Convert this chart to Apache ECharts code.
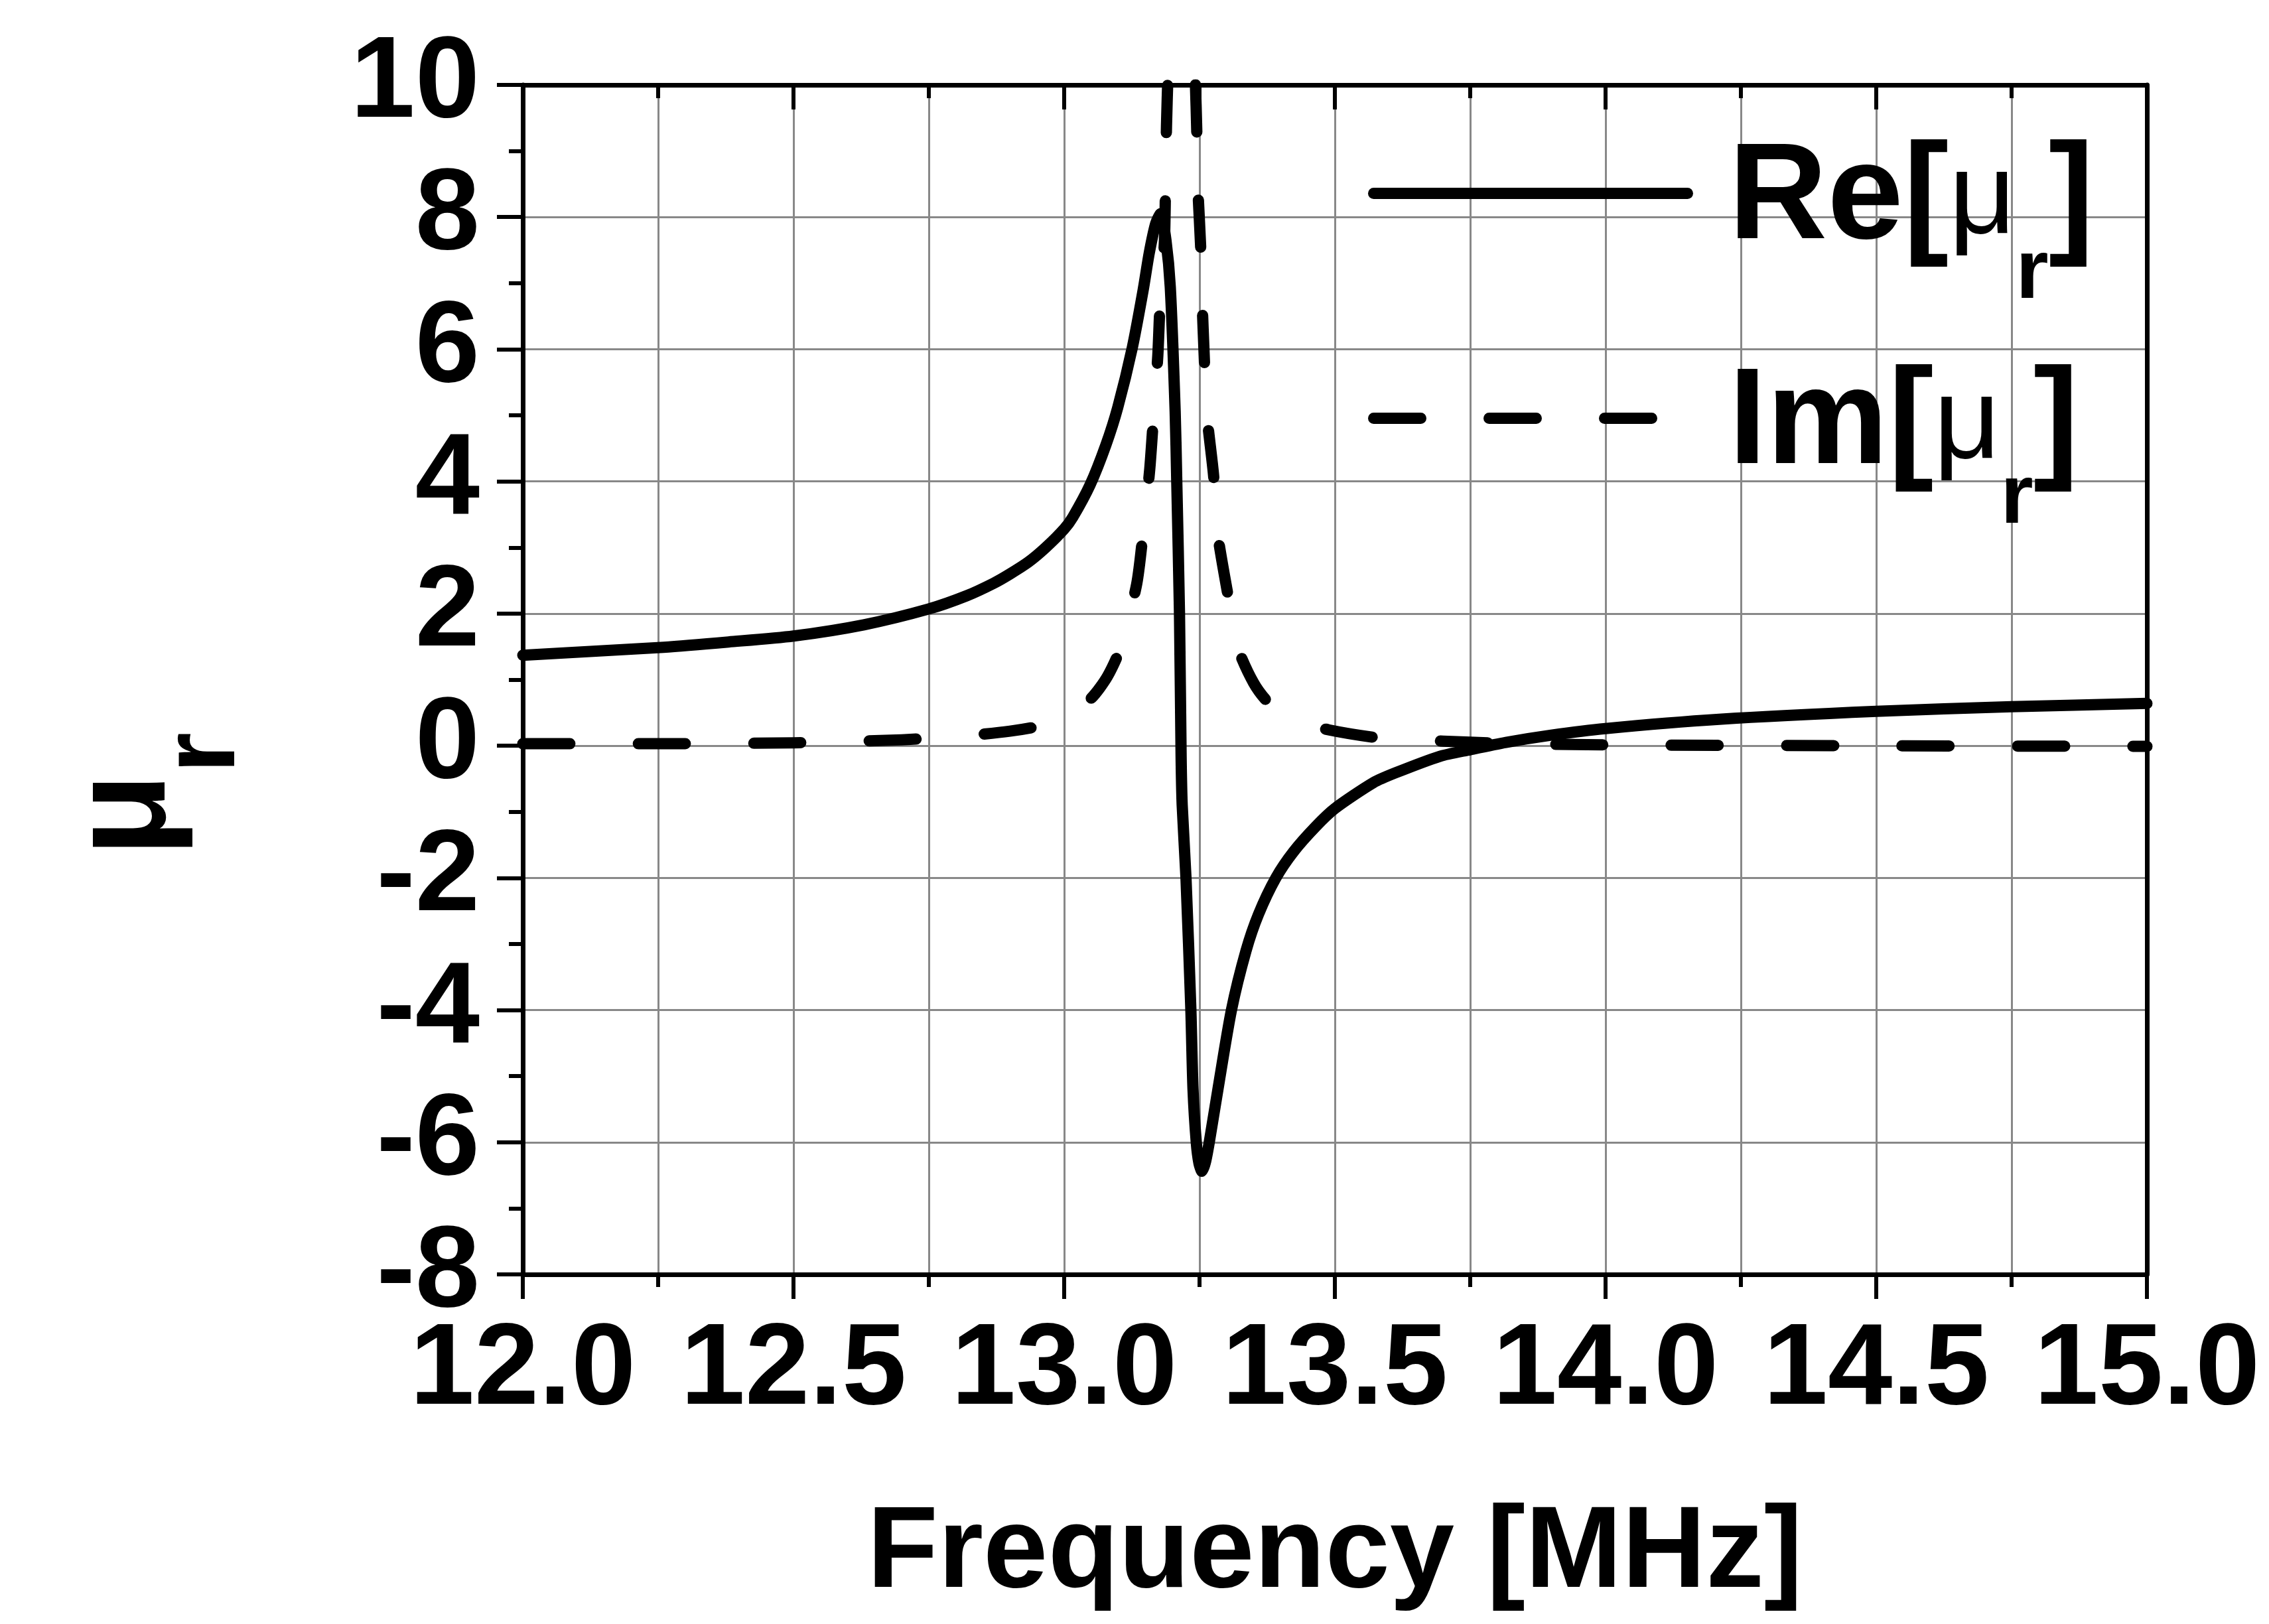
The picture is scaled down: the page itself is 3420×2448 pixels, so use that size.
<!DOCTYPE html>
<html>
<head>
<meta charset="utf-8">
<script src="https://cdn.jsdelivr.net/npm/echarts@6/dist/echarts.min.js"></script>
<style>
html,body{margin:0;padding:0;background:#ffffff;}
#chart{width:3420px;height:2448px;}
</style>
</head>
<body>
<div id="chart"></div>
<script>
// ---- data ----
const reFreq = [12.00, 12.13, 12.26, 12.38, 12.50, 12.63, 12.75, 12.82, 12.87, 12.90, 12.934, 12.966,
  13.000, 13.016, 13.048, 13.077, 13.099, 13.126, 13.146, 13.157, 13.169, 13.178, 13.188, 13.196, 13.205,
  13.208, 13.213, 13.216, 13.218, 13.225, 13.234, 13.238, 13.244, 13.249, 13.2545, 13.261, 13.268,
  13.284, 13.309, 13.336, 13.359, 13.391, 13.424, 13.465, 13.500, 13.571, 13.612, 13.694, 13.750,
  13.816, 13.900, 14.000, 14.210, 14.500, 14.750, 15.000];
const reMu = [1.37, 1.43, 1.49, 1.57, 1.66, 1.83, 2.07, 2.27, 2.46, 2.60, 2.78, 3.00,
  3.28, 3.46, 3.95, 4.55, 5.12, 6.03, 6.90, 7.45, 7.90, 8.05, 7.65, 6.94, 5.06,
  3.99, 2.00, -0.16, -0.90, -2.00, -3.99, -5.20, -6.00, -6.32, -6.44, -6.30, -6.00,
  -5.20, -4.00, -3.10, -2.55, -2.00, -1.60, -1.22, -0.95, -0.56, -0.41, -0.16, -0.06,
  0.05, 0.16, 0.26, 0.40, 0.52, 0.59, 0.64];

const imFreq = [12.00, 12.25, 12.50, 12.70, 12.83, 12.90, 12.95, 13.00, 13.05, 13.08, 13.105,
  13.134, 13.146, 13.158, 13.165, 13.173, 13.177, 13.185, 13.187, 13.189, 13.192, 13.203, 13.216,
  13.229, 13.242, 13.245, 13.247, 13.252, 13.255, 13.259, 13.263, 13.276, 13.283, 13.301, 13.320,
  13.350, 13.379, 13.430, 13.489, 13.590, 13.700, 13.800, 13.910, 14.100, 14.500, 15.000];
const imMu = [0.03, 0.03, 0.045, 0.09, 0.16, 0.22, 0.29, 0.42, 0.72, 1.05, 1.50,
  2.45, 3.24, 4.18, 4.98, 5.91, 6.67, 7.60, 8.37, 9.38, 10.2, 12.2, 14.0,
  12.3, 10.1, 9.28, 8.44, 7.57, 6.68, 5.83, 5.06, 4.09, 3.24, 2.35, 1.50,
  0.95, 0.64, 0.38, 0.24, 0.11, 0.07, 0.04, 0.02, 0.01, 0.00, -0.01];

const seriesNames = ['Re[\u03bcr]', 'Im[\u03bcr]'];
const xAxisRange = [12, 15];
const xTickStep = 0.5;
const yAxisRange = [-8, 10];
const yTickStep = 2;
const xTitle = 'Frequency [MHz]';

// ---- chart ----
const FONT = "'Liberation Sans', Arial, Helvetica, sans-serif";
const BLACK = '#000000';
const GRID = '#888888';
const LW = 17;
const DASH = [71, 103];
const TP = 22; // legend text vertical shift (padding)

function pairs(xs, ys) { return xs.map((x, i) => [x, ys[i]]); }

const chart = echarts.init(document.getElementById('chart'), null, {renderer: 'canvas'});

const option = {
  animation: false,
  backgroundColor: '#ffffff',
  grid: {left: 788, top: 128, right: 184, bottom: 527, containLabel: false, outerBoundsMode: 'none'},
  legend: {
    orient: 'vertical',
    left: 2062,
    top: 106,
    padding: 0,
    itemGap: -32,
    itemWidth: 473,
    itemHeight: 30,
    selectedMode: false,
    itemStyle: {opacity: 0},
    data: [
      {name: seriesNames[0], lineStyle: {color: BLACK, width: LW, type: 'solid', cap: 'round', opacity: 1}},
      {name: seriesNames[1], lineStyle: {color: BLACK, width: LW, type: DASH, cap: 'round', opacity: 1}}
    ],
    formatter: function (name) {
      const head = name.slice(0, 3);
      return '{b0|' + head + '}{mu|\u03bc}{sub|r}{b|]}';
    },
    textStyle: {
      color: BLACK,
      rich: {
        b0: {fontFamily: FONT, fontWeight: 'bold', fontSize: 206, lineHeight: 300, color: BLACK, padding: [TP, 0, 0, 57]},
        b: {fontFamily: FONT, fontWeight: 'bold', fontSize: 206, lineHeight: 300, color: BLACK, padding: [TP, 0, 0, 0]},
        mu: {fontFamily: FONT, fontWeight: 'normal', fontSize: 175, lineHeight: 300, color: BLACK, padding: [TP, 0, 0, 0]},
        sub: {fontFamily: FONT, fontWeight: 'bold', fontSize: 127, lineHeight: 300, color: BLACK, padding: [222 + TP, 0, 0, 0]}
      }
    }
  },
  xAxis: [{
    type: 'value',
    position: 'bottom',
    min: xAxisRange[0], max: xAxisRange[1], interval: xTickStep,
    name: xTitle,
    nameLocation: 'middle',
    nameGap: 335,
    nameTextStyle: {fontFamily: FONT, fontWeight: 'bold', fontSize: 175, color: BLACK},
    axisLine: {show: true, onZero: false, lineStyle: {color: BLACK, width: 7}},
    axisTick: {show: true, inside: false, length: 37, lineStyle: {color: BLACK, width: 6}},
    minorTick: {show: true, splitNumber: 2, length: 19, lineStyle: {color: BLACK, width: 6}},
    axisLabel: {
      show: true, margin: 59, color: BLACK, fontFamily: FONT, fontWeight: 'bold', fontSize: 175,
      showMinLabel: true, showMaxLabel: true, hideOverlap: false,
      formatter: v => v.toFixed(1)
    },
    splitLine: {show: true, lineStyle: {color: GRID, width: 3}},
    minorSplitLine: {show: true, lineStyle: {color: GRID, width: 3}}
  }, {
    type: 'value',
    position: 'top',
    min: xAxisRange[0], max: xAxisRange[1], interval: xTickStep,
    axisLine: {show: true, onZero: false, lineStyle: {color: BLACK, width: 7}},
    axisTick: {show: true, inside: true, length: 37, lineStyle: {color: BLACK, width: 6}},
    minorTick: {show: true, splitNumber: 2, length: 20, lineStyle: {color: BLACK, width: 6}},
    axisLabel: {show: false},
    splitLine: {show: false}
  }],
  yAxis: [{
    type: 'value',
    position: 'left',
    min: yAxisRange[0], max: yAxisRange[1], interval: yTickStep,
    name: '{mu|\u03bc}{sub|r}',
    nameLocation: 'middle',
    nameRotate: 90,
    nameGap: 447,
    nameTextStyle: {
      padding: [0, 346, 0, 0],
      rich: {
        mu: {fontFamily: FONT, fontWeight: 'bold', fontSize: 205, lineHeight: 300, color: BLACK},
        sub: {fontFamily: FONT, fontWeight: 'bold', fontSize: 158, lineHeight: 300, color: BLACK, padding: [236, 0, 0, 0]}
      }
    },
    axisLine: {show: true, onZero: false, lineStyle: {color: BLACK, width: 7}},
    axisTick: {show: true, inside: false, length: 39, lineStyle: {color: BLACK, width: 6}},
    minorTick: {show: true, splitNumber: 2, length: 21, lineStyle: {color: BLACK, width: 6}},
    axisLabel: {
      show: true, margin: 65, color: BLACK, fontFamily: FONT, fontWeight: 'bold', fontSize: 175,
      showMinLabel: true, showMaxLabel: true, hideOverlap: false
    },
    splitLine: {show: true, lineStyle: {color: GRID, width: 3}},
    minorSplitLine: {show: false}
  }, {
    type: 'value',
    position: 'right',
    min: yAxisRange[0], max: yAxisRange[1], interval: yTickStep,
    axisLine: {show: true, onZero: false, lineStyle: {color: BLACK, width: 7}},
    axisTick: {show: false},
    minorTick: {show: false},
    axisLabel: {show: false},
    splitLine: {show: false}
  }],
  series: [{
    name: seriesNames[0],
    type: 'line',
    xAxisIndex: 0, yAxisIndex: 0,
    data: pairs(reFreq, reMu),
    symbol: 'none', showSymbol: false,
    smooth: 0.25,
    lineStyle: {color: BLACK, width: LW, type: 'solid', cap: 'round', join: 'round'},
    itemStyle: {color: BLACK},
    emphasis: {disabled: true},
    silent: true, z: 3
  }, {
    name: seriesNames[1],
    type: 'line',
    xAxisIndex: 0, yAxisIndex: 0,
    data: pairs(imFreq, imMu),
    symbol: 'none', showSymbol: false,
    smooth: 0.25,
    lineStyle: {color: BLACK, width: LW, type: DASH, cap: 'round', join: 'round'},
    itemStyle: {color: BLACK},
    emphasis: {disabled: true},
    silent: true, z: 3
  }]
};
chart.setOption(option);
</script>
</body>
</html>
